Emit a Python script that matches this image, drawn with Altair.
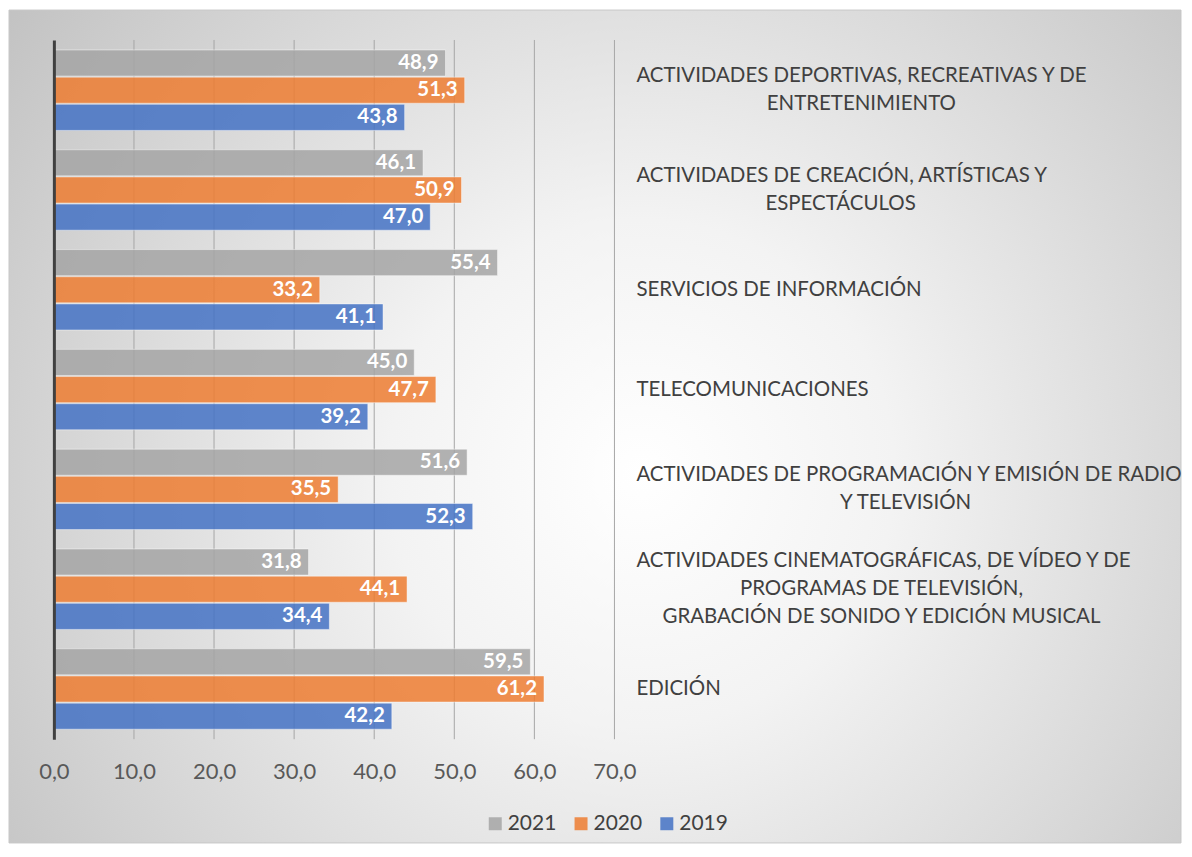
import altair as alt
import pandas as pd

categories = [
    "ACTIVIDADES DEPORTIVAS, RECREATIVAS Y DE ENTRETENIMIENTO",
    "ACTIVIDADES DE CREACIÓN, ARTÍSTICAS Y ESPECTÁCULOS",
    "SERVICIOS DE INFORMACIÓN",
    "TELECOMUNICACIONES",
    "ACTIVIDADES DE PROGRAMACIÓN Y EMISIÓN DE RADIO Y TELEVISIÓN",
    "ACTIVIDADES CINEMATOGRÁFICAS, DE VÍDEO Y DE PROGRAMAS DE TELEVISIÓN, GRABACIÓN DE SONIDO Y EDICIÓN MUSICAL",
    "EDICIÓN",
]
label_lines = [
    ["ACTIVIDADES DEPORTIVAS, RECREATIVAS Y DE", "ENTRETENIMIENTO"],
    ["ACTIVIDADES DE CREACIÓN, ARTÍSTICAS Y", "ESPECTÁCULOS"],
    ["SERVICIOS DE INFORMACIÓN"],
    ["TELECOMUNICACIONES"],
    ["ACTIVIDADES DE PROGRAMACIÓN Y EMISIÓN DE RADIO", "Y TELEVISIÓN"],
    ["ACTIVIDADES CINEMATOGRÁFICAS, DE VÍDEO Y DE", "PROGRAMAS DE TELEVISIÓN,",
     "GRABACIÓN DE SONIDO Y EDICIÓN MUSICAL"],
    ["EDICIÓN"],
]
years = ["2021", "2020", "2019"]
v2021 = [48.9, 46.1, 55.4, 45.0, 51.6, 31.8, 59.5]
v2020 = [51.3, 50.9, 33.2, 47.7, 35.5, 44.1, 61.2]
v2019 = [43.8, 47.0, 41.1, 39.2, 52.3, 34.4, 42.2]
colors = ["#A5A5A5", "#ED7D31", "#4472C4"]
x_ticks = [0, 10, 20, 30, 40, 50, 60, 70]

# layout constants
W, H = 562, 701
XMAX = 70
PX_PER_UNIT = W / XMAX
LABEL_LEFT_PX = 584
LABEL_FS = 20.5
LINE_H = 28
FONT = "Lato"

# approximate advance widths (em) of Lato Regular capitals, used to centre wrapped lines
LATO_EM = {"A": .68, "B": .64, "C": .68, "D": .75, "E": .55, "F": .53, "G": .73, "H": .76,
           "I": .29, "J": .41, "K": .66, "L": .50, "M": .91, "N": .76, "O": .80, "P": .60,
           "Q": .80, "R": .63, "S": .54, "T": .59, "U": .73, "V": .68, "W": 1.03, "X": .66,
           "Y": .63, "Z": .62, " ": .19, ",": .22}
ACCENTS = str.maketrans("ÁÉÍÓÚ", "AEIOU")


def text_w(s):
    return LABEL_FS * sum(LATO_EM.get(ch, .65) for ch in s.translate(ACCENTS))


rows = []
for yr, vals in zip(years, [v2021, v2020, v2019]):
    for c, v in zip(categories, vals):
        rows.append({"category": c, "year": yr, "value": v})
df = pd.DataFrame(rows)

# one row per label line; the widest line of a block is left-aligned,
# the other lines are centred on the block
line_rows = []
for c, lines in zip(categories, label_lines):
    n = len(lines)
    widths = [text_w(s) for s in lines]
    widest = max(range(n), key=lambda k: widths[k])
    for i, s in enumerate(lines):
        line_rows.append({
            "category": c, "line": s,
            "slot": i - (n - 1) / 2,
            "align": "left" if i == widest else "center",
            "lx": LABEL_LEFT_PX / PX_PER_UNIT,
            "cx": (LABEL_LEFT_PX + widths[widest] / 2) / PX_PER_UNIT,
        })
lines_df = pd.DataFrame(line_rows)

y_enc = alt.Y("category:N", sort=categories,
              scale=alt.Scale(paddingInner=0.194, paddingOuter=0.1),
              axis=alt.Axis(labels=False, ticks=False, title=None, domain=True,
                            domainColor="#404040", domainWidth=3, grid=False, zindex=2))
x_scale = alt.Scale(domain=[0, XMAX], nice=False, zero=True)

bg = alt.Chart(pd.DataFrame({"a": [0]})).mark_rect(
    fill={"gradient": "radial",
          "stops": [{"offset": 0, "color": "#ffffff"},
                    {"offset": 0.3, "color": "#f3f3f3"},
                    {"offset": 1, "color": "#bdbdbd"}],
          "x1": 0.54, "y1": 0.54, "r1": 0,
          "x2": 0.54, "y2": 0.54, "r2": 0.72},
    stroke="#c8c8c8", strokeWidth=1,
).encode(x=alt.value(-45), x2=alt.value(1130), y=alt.value(-30), y2=alt.value(805))

grid = alt.Chart(pd.DataFrame({"t": x_ticks[1:]})).mark_rule(
    color="#a6a6a6", strokeWidth=1
).encode(x=alt.X("t:Q", scale=x_scale), y=alt.value(0), y2=alt.value(H))

bars = alt.Chart(df).mark_bar(fillOpacity=0.85, stroke="#ffffff", strokeOpacity=0.45,
                              strokeWidth=1).encode(
    y=y_enc,
    yOffset=alt.YOffset("year:N", sort=years, scale=alt.Scale(paddingInner=0.04, paddingOuter=0)),
    x=alt.X("value:Q", scale=x_scale,
            axis=alt.Axis(values=x_ticks, title=None, grid=False, zindex=2,
                          domain=False, ticks=False, tickSize=0, labelFlush=False,
                          labelFontSize=22, labelColor="#595959", labelPadding=22,
                          labelFont=FONT,
                          labelExpr="replace(format(datum.value, '.1f'), '.', ',')")),
    color=alt.Color("year:N", sort=years,
                    scale=alt.Scale(domain=years, range=colors),
                    legend=alt.Legend(orient="none", legendX=432, legendY=775,
                                      direction="horizontal", title=None,
                                      symbolType="square", symbolSize=169,
                                      symbolStrokeWidth=0, symbolOpacity=0.85,
                                      labelFontSize=21, labelFont=FONT,
                                      labelColor="#404040", labelOffset=2,
                                      columnPadding=14)),
)

values_txt = alt.Chart(df).transform_calculate(
    lab="replace(format(datum.value, '.1f'), '.', ',')"
).mark_text(align="right", baseline="middle", dx=-7, color="#ffffff",
            fontWeight="bold", fontSize=20.5, font=FONT).encode(
    y=alt.Y("category:N", sort=categories),
    yOffset=alt.YOffset("year:N", sort=years),
    x=alt.X("value:Q", scale=x_scale),
    text="lab:N",
)

label_layers = []
for (slot, align), _ in lines_df.groupby(["slot", "align"]):
    sub = alt.Chart(lines_df).transform_filter(
        (alt.datum.slot == slot) & (alt.datum.align == align)
    ).mark_text(align=align, baseline="middle", dy=slot * LINE_H,
                fontSize=LABEL_FS, font=FONT, color="#404040").encode(
        y=alt.Y("category:N", sort=categories),
        x=alt.X("lx:Q" if align == "left" else "cx:Q", scale=x_scale),
        text="line:N",
    )
    label_layers.append(sub)

chart = alt.layer(bg, grid, bars, values_txt, *label_layers).properties(
    width=W, height=H, padding=0, background="#ffffff"
).configure_view(stroke=None).configure(font=FONT)

chart.save("out.html", embed_options={"renderer": "svg", "actions": False})
